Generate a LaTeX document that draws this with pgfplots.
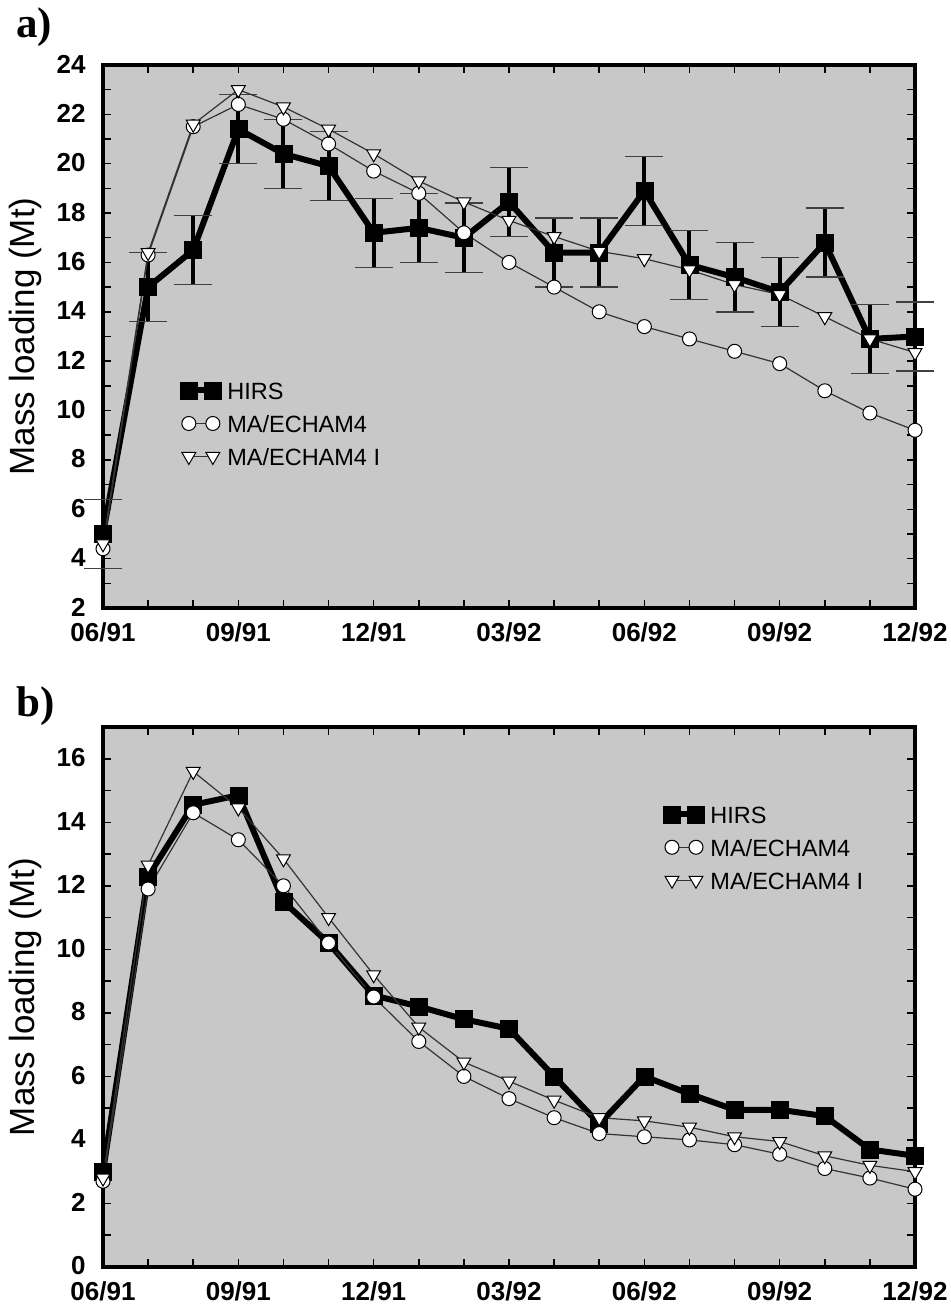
\documentclass[border=0pt]{standalone}
\usepackage{fontspec}
\setmainfont{Liberation Sans}
\newfontfamily\serifb{Liberation Serif}
\usepackage{pgfplots}
\pgfplotsset{compat=1.18}
\definecolor{bg}{RGB}{200,200,200}

\pgfplotsset{
  myaxis/.style={
    scale only axis, width=812bp,
    xmin=0, xmax=18,
    axis background/.style={fill=bg},
    axis line style={line width=3.5bp},
    tick align=inside, tick pos=both,
    xtick={0,3,...,18},
    xticklabels={06/91,09/91,12/91,03/92,06/92,09/92,12/92},
    minor xtick={0,...,18},
    major tick length=8bp, minor tick length=8bp,
    every tick/.style={line width=1.5bp, black},
    tick label style={font=\fontsize{26bp}{26bp}\selectfont\bfseries},
    /pgf/number format/assume math mode=true,
    xticklabel style={yshift=-11bp},
    yticklabel style={xshift=-14bp, yshift=1bp},
    clip=false,
    legend image code/.code={\draw[##1] plot coordinates {(0bp,0bp) (24bp,0bp)};},
    legend style={draw=none, fill=none, inner sep=0pt, row sep=9bp, column sep=3bp,
      nodes={font=\fontsize{23.5bp}{23.5bp}\selectfont, inner sep=3bp, text height=18bp, text depth=0bp}},
    legend cell align=left,
    ylabel={Mass loading (Mt)},
  },
  hirs/.style={black, line width=6bp, mark=square*, mark size=8.5bp,
    mark options={solid, line width=0.5bp, fill=black}},
  circ/.style={black!80, line width=1.2bp, mark=*, mark size=7bp,
    mark options={fill=white, draw=black, line width=1bp}},
  tri/.style={black!80, line width=1.2bp, mark=triangle*, mark size=8bp,
    mark options={fill=white, draw=black, line width=1bp, rotate=180}},
}

\begin{document}
\begin{tikzpicture}[x=1bp,y=1bp]
\path[use as bounding box] (0,0) rectangle (950,1306);

\node[anchor=base west, inner sep=0pt, font=\serifb\bfseries\fontsize{43bp}{43bp}\selectfont] at (16,1268) {a)};
\node[anchor=base west, inner sep=0pt, font=\serifb\bfseries\fontsize{43bp}{43bp}\selectfont] at (16,589) {b)};

% Panel a
\begin{axis}[myaxis,
  at={(103bp,698bp)}, anchor=south west, height=543bp,
  ymin=2, ymax=24,
  ytick={2,4,...,24}, minor ytick={2,...,24},
  ylabel style={font=\fontsize{35bp}{35bp}\selectfont, at={(rel axis cs:-0.096,0.5)}, anchor=center},
  legend style={at={(0.095,0.423)}, anchor=north west},
]
\addplot+[hirs, error bars/.cd, y dir=both, y explicit,
  error bar style={line width=4bp, black, solid},
  error mark=|, error mark options={line width=1.5bp, mark size=19bp, black!75}]
coordinates {
(0,5.0) +- (0,1.4)
(1,15.0) +- (0,1.4)
(2,16.5) +- (0,1.4)
(3,21.4) +- (0,1.4)
(4,20.4) +- (0,1.4)
(5,19.9) +- (0,1.4)
(6,17.2) +- (0,1.4)
(7,17.4) +- (0,1.4)
(8,17.0) +- (0,1.4)
(9,18.45) +- (0,1.4)
(10,16.4) +- (0,1.4)
(11,16.4) +- (0,1.4)
(12,18.9) +- (0,1.4)
(13,15.9) +- (0,1.4)
(14,15.4) +- (0,1.4)
(15,14.8) +- (0,1.4)
(16,16.8) +- (0,1.4)
(17,12.9) +- (0,1.4)
(18,13.0) +- (0,1.4)
};
\addplot+[circ] coordinates {
(0,4.4) (1,16.3) (2,21.5) (3,22.4) (4,21.8) (5,20.8) (6,19.7) (7,18.8) (8,17.2) (9,16.0)
(10,15.0) (11,14.0) (12,13.4) (13,12.9) (14,12.4) (15,11.9) (16,10.8) (17,9.9) (18,9.2)
};
\addplot+[tri] coordinates {
(0,4.6) (1,16.4) (2,21.6) (3,23.0) (4,22.3) (5,21.4) (6,20.4) (7,19.3) (8,18.45) (9,17.7)
(10,17.05) (11,16.45) (12,16.15) (13,15.7) (14,15.1) (15,14.7) (16,13.8) (17,12.9) (18,12.35)
};
\legend{HIRS, MA/ECHAM4, MA/ECHAM4 I}
\end{axis}

% Panel b
\begin{axis}[myaxis,
  at={(103bp,39bp)}, anchor=south west, height=540bp,
  ymin=0, ymax=17,
  ytick={0,2,...,16}, minor ytick={0,...,17},
  ylabel style={font=\fontsize{35bp}{35bp}\selectfont, at={(rel axis cs:-0.096,0.5)}, anchor=center},
  legend style={at={(0.69,0.861)}, anchor=north west},
]
\addplot+[hirs] coordinates {
(0,3.0) (1,12.3) (2,14.55) (3,14.85) (4,11.5) (5,10.2) (6,8.55) (7,8.2) (8,7.8) (9,7.5)
(10,6.0) (11,4.5) (12,6.0) (13,5.45) (14,4.95) (15,4.95) (16,4.75) (17,3.7) (18,3.5)
};
\addplot+[circ] coordinates {
(0,2.7) (1,11.9) (2,14.3) (3,13.45) (4,12.0) (5,10.2) (6,8.5) (7,7.1) (8,6.0) (9,5.3)
(10,4.7) (11,4.2) (12,4.1) (13,4.0) (14,3.85) (15,3.55) (16,3.1) (17,2.8) (18,2.45)
};
\addplot+[tri] coordinates {
(0,2.8) (1,12.65) (2,15.6) (3,14.45) (4,12.85) (5,11.0) (6,9.2) (7,7.55) (8,6.45) (9,5.85)
(10,5.25) (11,4.7) (12,4.6) (13,4.4) (14,4.1) (15,3.95) (16,3.5) (17,3.2) (18,3.0)
};
\legend{HIRS, MA/ECHAM4, MA/ECHAM4 I}
\end{axis}
\end{tikzpicture}
\end{document}
